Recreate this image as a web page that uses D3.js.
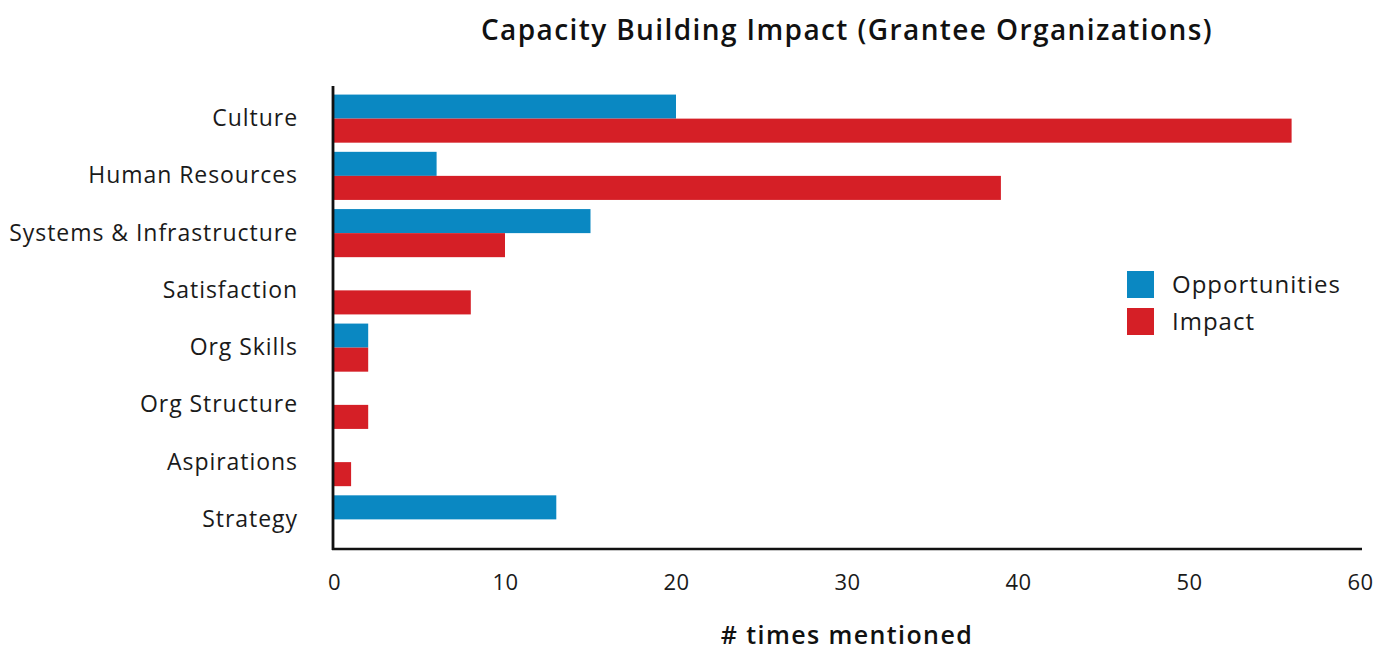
<!DOCTYPE html>
<html><head><meta charset="utf-8">
<script src="https://cdn.jsdelivr.net/npm/d3@7"></script>
<style>body{margin:0;background:#fff}svg{display:block}text{font-family:"Open Sans","Noto Sans",sans-serif}</style>
</head><body>
<script>
const categories = ["Culture","Human Resources","Systems & Infrastructure","Satisfaction","Org Skills","Org Structure","Aspirations","Strategy"];
const seriesNames = ["Opportunities","Impact"];
const opportunities = [20,6,15,0,2,0,0,13];
const impact = [56,39,10,8,2,2,1,0];
const xTicks = [0,10,20,30,40,50,60];
const colors = ["#0a88c2","#d51f26"];

const W=1385,H=651;
const svg=d3.select("body").append("svg").attr("width",W).attr("height",H);
const x=d3.scaleLinear().domain([0,60]).range([334,1360]);
const y=d3.scaleBand().domain(categories).range([90,548]).paddingInner(0.16).paddingOuter(0.08);
const ys=d3.scaleBand().domain(seriesNames).range([0,y.bandwidth()]);
const data=[opportunities,impact];

seriesNames.forEach((s,si)=>{
  svg.append("g").selectAll("rect").data(categories.map((c,i)=>({c,v:data[si][i]})).filter(d=>d.v>0))
   .join("rect").attr("x",x(0)).attr("y",d=>y(d.c)+ys(s)).attr("width",d=>x(d.v)-x(0)).attr("height",ys.bandwidth()).attr("fill",colors[si]);
});

const FONT='"Open Sans"';
const xa=svg.append("g").attr("transform","translate(0,549)").call(d3.axisBottom(x).tickValues(xTicks).tickSize(0).tickPadding(25));
xa.select(".domain").attr("stroke","#111").attr("stroke-width",2.5).attr("d","M332,0H1362");
xa.selectAll("text").attr("font-size",22).attr("fill","#1a1a1a").attr("font-family",FONT).attr("font-weight",400).attr("letter-spacing","0.5px");
const ya=svg.append("g").attr("transform","translate(333,0)").call(d3.axisLeft(y).tickSize(0).tickPadding(35));
ya.select(".domain").attr("stroke","#111").attr("stroke-width",2.8).attr("d","M0,86V550");
ya.selectAll("text").attr("font-size",23).attr("fill","#1a1a1a").attr("font-family",FONT).attr("font-weight",400).attr("letter-spacing","0.95px");

svg.append("text").attr("x",847).attr("y",40).attr("text-anchor","middle").attr("font-size",28).attr("font-weight",600).attr("letter-spacing","1.4px").attr("fill","#111").text("Capacity Building Impact (Grantee Organizations)");
svg.append("text").attr("x",847).attr("y",644).attr("text-anchor","middle").attr("font-size",25).attr("font-weight",600).attr("letter-spacing","1.4px").attr("fill","#111").text("# times mentioned");

const lg=svg.append("g");
seriesNames.forEach((s,i)=>{
  lg.append("rect").attr("x",1127).attr("y",271+i*37).attr("width",27).attr("height",27).attr("fill",colors[i]);
  lg.append("text").attr("x",1172).attr("y",293+i*37).attr("font-size",24).attr("font-weight",400).attr("letter-spacing","1px").attr("fill","#1a1a1a").text(s);
});
</script>
</body></html>
